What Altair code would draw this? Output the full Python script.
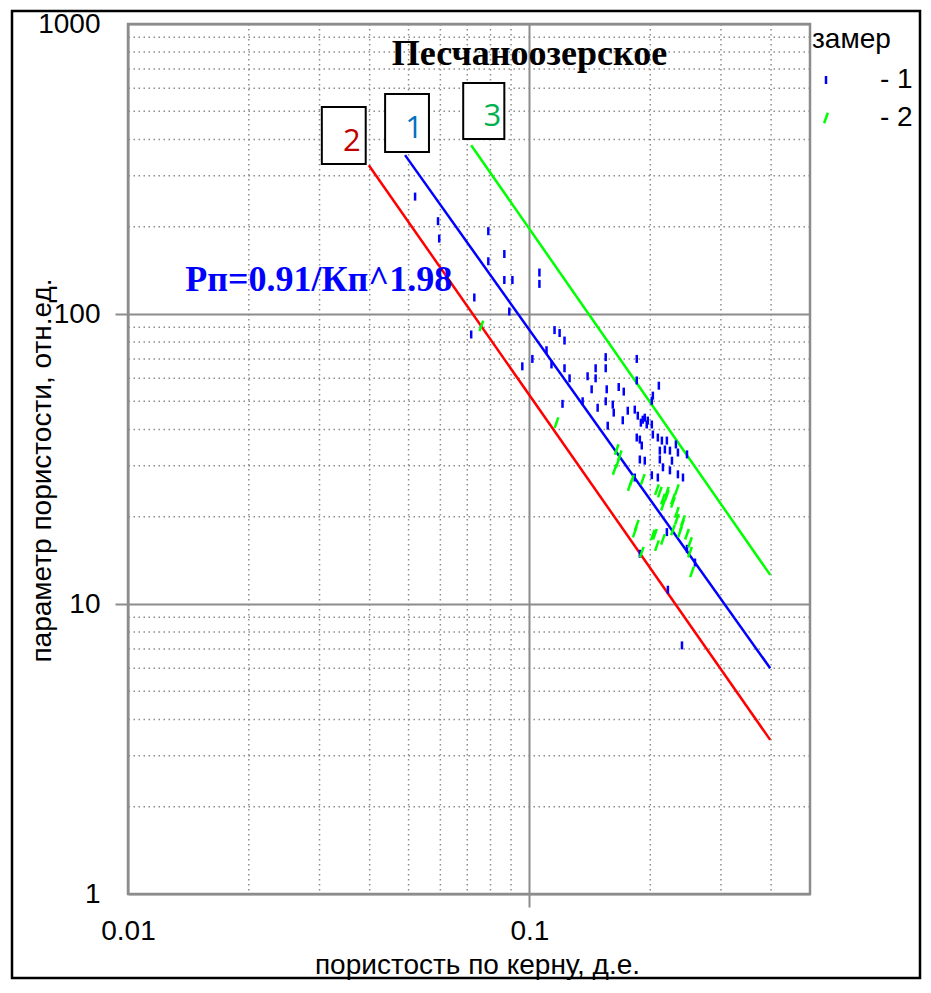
import altair as alt
import pandas as pd

# ---- measured points: замер 1 (blue) ----
blue_kp = [0.0519, 0.0592, 0.0596, 0.079, 0.0866, 0.079, 0.0866, 0.0907, 0.1059, 0.1059,
           0.0729, 0.0891, 0.0716, 0.1155, 0.1189, 0.1223, 0.1103, 0.1017, 0.096, 0.1135,
           0.1223, 0.1259, 0.1549, 0.1549, 0.1462, 0.1396, 0.1462, 0.1429, 0.1558, 0.1669,
           0.1718, 0.1851, 0.1851, 0.1209, 0.1357, 0.1479, 0.1549, 0.1613, 0.1622, 0.1567,
           0.1708, 0.1758, 0.183, 0.1862, 0.1916, 0.1851, 0.1905, 0.2101, 0.203, 0.2018,
           0.1938, 0.1972, 0.2018, 0.203, 0.2089, 0.2138, 0.22, 0.1884, 0.2113, 0.2175,
           0.2239, 0.2317, 0.2344, 0.2469, 0.1884, 0.1938, 0.2113, 0.2151, 0.2265, 0.2239,
           0.2344, 0.2413, 0.183, 0.2018, 0.2089, 0.1884, 0.22, 0.2585, 0.2469, 0.2213,
           0.2399, 0.1895, 0.196]
blue_pp = [254, 209, 182, 193, 161, 152, 131, 131, 139, 127,
           114, 102, 85, 88, 86, 81, 75, 70, 66, 67,
           65, 60, 71, 65, 65, 61, 60, 55, 55, 56,
           54, 70, 59, 49, 50, 47.5, 50, 48.7, 45.7, 41.2,
           43, 46.4, 46.8, 44.6, 43.2, 37.5, 35.2, 56.6, 52.3, 50.2,
           43.9, 42.9, 41.6, 38.4, 37.5, 36.6, 36.6, 36.9, 33.8, 34.1,
           33.8, 35.5, 33.3, 32.8, 31.5, 31.2, 31.5, 29.6, 31.2, 28.9,
           28, 27.3, 27.3, 27.8, 27.3, 14.9, 17.7, 13.9, 15.5, 11.2,
           7.2, 42.2, 41.6]

# ---- measured points: замер 2 (green) ----
green_kp = [0.0759, 0.1168, 0.165, 0.166, 0.1778, 0.1916, 0.2078, 0.2151, 0.2278, 0.22,
            0.233, 0.1851, 0.203, 0.2078, 0.2151, 0.233, 0.2399, 0.2371, 0.2512, 0.2541,
            0.1631, 0.1679, 0.1799, 0.2113, 0.22, 0.2151, 0.2278, 0.233, 0.2413, 0.2469,
            0.2278, 0.183, 0.2054, 0.1905, 0.2512]
green_pp = [91, 42.2, 34.1, 30.8, 25.6, 26.9, 24.8, 23.0, 23.0, 24.3,
            24.8, 18.7, 17.3, 15.9, 16.7, 19.6, 18.7, 17.7, 16.3, 12.9,
            29.1, 32.5, 26.7, 24.3, 23.7, 21.9, 22.4, 20.7, 19.4, 17.4,
            18.0, 17.7, 17.4, 15.1, 15.1]

# ---- trend lines (2 = red, 1 = blue, 3 = green) ----
line_x1 = [0.0398, 0.049, 0.0716]
line_y1 = [326, 353, 382]
line_x2 = [0.398, 0.398, 0.398]
line_y2 = [3.4, 6.0, 12.6]
line_colors = ["#ff0000", "#0000ff", "#00ff00"]

# ---- numbered boxes ----
box_labels = ["2", "1", "3"]
box_x1 = [0.0304, 0.0437, 0.0684]
box_x2 = [0.0391, 0.0562, 0.0866]
box_y1 = [517, 574, 626]
box_y2 = [329, 362, 401]
box_tx = [0.0361, 0.0516, 0.0808]
box_ty = [392, 435, 478]
box_colors = ["#c00000", "#0070c0", "#00b050"]

# ---- grid values ----
minor_x = [0.02, 0.03, 0.04, 0.05, 0.06, 0.07, 0.08, 0.09, 0.2, 0.3, 0.4]
minor_y = [2, 3, 4, 5, 6, 7, 8, 9, 20, 30, 40, 50, 60, 70, 80, 90,
           200, 300, 400, 500, 600, 700, 800, 900]

title_text = ["Песчаноозерское"]
title_x = [0.1]
title_y = [790]
formula_text = ["Рп=0.91/Кп^1.98"]
formula_x = [0.01388]
formula_y = [131]

xs = alt.Scale(type="log", domain=[0.01, 0.5], nice=False)
ys = alt.Scale(type="log", domain=[1, 1000], nice=False)

pts = pd.DataFrame({
    "kp": blue_kp + green_kp,
    "pp": blue_pp + green_pp,
    "zamer": ["1"] * len(blue_kp) + ["2"] * len(green_kp),
})
lines = pd.DataFrame({"x1": line_x1, "y1": line_y1, "x2": line_x2, "y2": line_y2, "c": line_colors})
boxes = pd.DataFrame({"lab": box_labels, "x1": box_x1, "x2": box_x2, "y1": box_y1, "y2": box_y2,
                      "tx": box_tx, "ty": box_ty, "c": box_colors})

FONT = "Liberation Sans"

xaxis = alt.Axis(values=[0.01, 0.1], format="~g", grid=True, gridColor="#8c8c8c", gridWidth=2,
                 domain=False, tickSize=13, tickColor="#8c8c8c", tickWidth=2,
                 tickOpacity={"condition": {"test": "datum.value <= 0.01", "value": 0}, "value": 1},
                 labelFlush=False, labelPadding=10, labelFontSize=28, labelFont=FONT, labelColor="black",
                 title="пористость по керну, д.е.", titleFont=FONT, titleFontSize=28,
                 titleFontWeight="normal", titleColor="black", titleX=349, titleY=71,
                 titleBaseline="middle", titleAlign="center")
yaxis = alt.Axis(values=[1, 10, 100, 1000], format="~g", grid=True, gridColor="#8c8c8c", gridWidth=2,
                 domain=False, tickSize=13, tickColor="#8c8c8c", tickWidth=2,
                 tickOpacity={"condition": {"test": "datum.value <= 1 || datum.value >= 1000", "value": 0}, "value": 1},
                 labelFlush=False, labelPadding=15, labelFontSize=28, labelFont=FONT, labelColor="black",
                 labelBaseline="middle",
                 title="параметр пористости, отн.ед.", titleFont=FONT, titleFontSize=28,
                 titleFontWeight="normal", titleColor="black", titleX=-86, titleY=446,
                 titleAngle=270, titleBaseline="middle", titleAlign="center")

base_axes = alt.Chart(pd.DataFrame({"kp": [0.1], "pp": [10]})).mark_point(opacity=0).encode(
    x=alt.X("kp:Q", scale=xs, axis=xaxis),
    y=alt.Y("pp:Q", scale=ys, axis=yaxis),
)

grid_v = alt.Chart(pd.DataFrame({"v": minor_x})).mark_rule(
    color="#8c8c8c", strokeWidth=1.5, strokeDash=[1.5, 3.5]
).encode(x=alt.X("v:Q", scale=xs))
grid_h = alt.Chart(pd.DataFrame({"v": minor_y})).mark_rule(
    color="#8c8c8c", strokeWidth=1.5, strokeDash=[1.5, 3.5]
).encode(y=alt.Y("v:Q", scale=ys))

line_layer = alt.Chart(lines).mark_rule(strokeWidth=2.5).encode(
    x=alt.X("x1:Q", scale=xs), y=alt.Y("y1:Q", scale=ys),
    x2="x2:Q", y2="y2:Q",
    stroke=alt.Stroke("c:N", scale=None),
)

point_layer = alt.Chart(pts).mark_point(filled=False, strokeWidth=2.5, opacity=1).encode(
    x=alt.X("kp:Q", scale=xs),
    y=alt.Y("pp:Q", scale=ys),
    color=alt.Color("zamer:N", scale=alt.Scale(domain=["1", "2"], range=["#0000ff", "#00ff00"]),
                    legend=alt.Legend(title="замер", labelExpr="'- ' + datum.label")),
    shape=alt.Shape("zamer:N", scale=alt.Scale(domain=["1", "2"],
                                               range=["M0,-1L0,1", "M-0.35,1L0.35,-1"]),
                    legend=alt.Legend(title="замер", labelExpr="'- ' + datum.label")),
    size=alt.Size("zamer:N", scale=alt.Scale(domain=["1", "2"], range=[64, 110]), legend=None),
)

box_layer = alt.Chart(boxes).mark_rect(fill="white", stroke="black", strokeWidth=2).encode(
    x=alt.X("x1:Q", scale=xs), x2="x2:Q",
    y=alt.Y("y1:Q", scale=ys), y2="y2:Q",
)
box_text = alt.Chart(boxes).mark_text(font="Open Sans", fontSize=31, align="center", baseline="middle").encode(
    x=alt.X("tx:Q", scale=xs), y=alt.Y("ty:Q", scale=ys),
    text="lab:N",
    fill=alt.Fill("c:N", scale=None),
)

title_layer = alt.Chart(pd.DataFrame({"t": title_text, "x": title_x, "y": title_y})).mark_text(
    font="Liberation Serif", fontSize=36, fontWeight="bold", align="center", baseline="middle", color="black"
).encode(x=alt.X("x:Q", scale=xs), y=alt.Y("y:Q", scale=ys), text="t:N")

formula_layer = alt.Chart(pd.DataFrame({"t": formula_text, "x": formula_x, "y": formula_y})).mark_text(
    font="Liberation Serif", fontSize=36, fontWeight="bold", align="left", baseline="middle", color="#0000ff"
).encode(x=alt.X("x:Q", scale=xs), y=alt.Y("y:Q", scale=ys), text="t:N")

frame = alt.Chart(pd.DataFrame({"a": [0]})).mark_rect(fill=None, stroke="black", strokeWidth=2.5).encode(
    x=alt.value(-116), x2=alt.value(792), y=alt.value(-13), y2=alt.value(954)
)

chart = alt.layer(
    base_axes, grid_v, grid_h, line_layer, point_layer, box_layer, box_text,
    formula_layer, title_layer, frame
).properties(
    width=682, height=870,
    autosize=alt.AutoSizeParams(type="none"),
    padding={"left": 120, "top": 16, "right": 112, "bottom": 86},
).configure_view(
    stroke="#8c8c8c", strokeWidth=2.5
).configure_legend(
    orient="none", legendX=684, legendY=2,
    titleFont=FONT, titleFontSize=28, titleFontWeight="normal", titleColor="black",
    labelFont=FONT, labelFontSize=28, labelColor="black",
    symbolSize=70, symbolStrokeWidth=2.5, labelOffset=40, rowPadding=10, titlePadding=12,
)

chart.save("out.html", embed_options={"renderer": "svg", "actions": False})
